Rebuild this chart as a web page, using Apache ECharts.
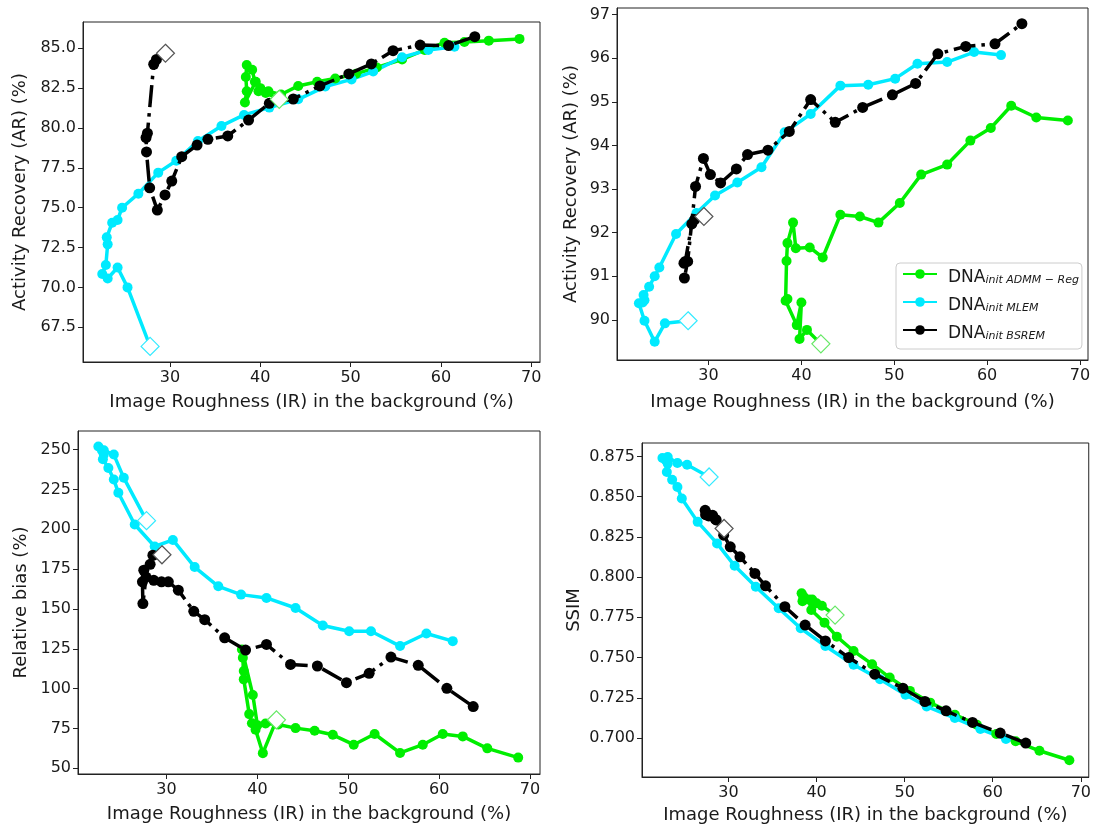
<!DOCTYPE html>
<html><head><meta charset="utf-8">
<script src="https://cdn.jsdelivr.net/npm/echarts@6/dist/echarts.min.js"></script>
<style>html,body{margin:0;padding:0;background:#fff}#c{width:1094px;height:829px}</style>
</head><body><div id="c"></div>
<script>
// ---------- data ----------
const xTicks = [30, 40, 50, 60, 70];
const yTicksAR1 = [67.5, 70.0, 72.5, 75.0, 77.5, 80.0, 82.5, 85.0];
const yTicksAR2 = [90, 91, 92, 93, 94, 95, 96, 97];
const yTicksBias = [50, 75, 100, 125, 150, 175, 200, 225, 250];
const yTicksSSIM = [0.700, 0.725, 0.750, 0.775, 0.800, 0.825, 0.850, 0.875];

// Image roughness (x) per method (first point = initial, diamond)
const irADMM = [42.1, 40.6, 39.8, 40.0, 39.5, 38.3, 38.5, 38.4, 38.5, 39.1, 39.4, 40.9, 42.3, 44.2, 46.3, 48.3, 50.6, 52.9, 55.7, 58.2, 60.4, 62.6, 65.3, 68.7];
const irMLEM = [27.8, 25.3, 24.2, 23.1, 22.5, 22.9, 23.1, 23.0, 23.6, 24.2, 24.7, 26.5, 28.7, 30.7, 33.1, 35.7, 38.2, 41.0, 44.2, 47.2, 50.1, 52.5, 55.7, 58.6, 61.5];
const irBSREM = [29.5, 28.5, 28.2, 27.5, 27.35, 27.4, 27.75, 28.6, 29.45, 30.2, 31.3, 33.0, 34.2, 36.4, 38.7, 41.0, 43.65, 46.6, 49.8, 52.3, 54.7, 57.7, 60.85, 63.75];

// Panel 1: Activity recovery (first region)
const ar1ADMM = [81.8, 82.2, 82.3, 82.5, 82.9, 81.6, 82.3, 83.2, 83.95, 83.65, 82.9, 82.3, 82.1, 82.64, 82.9, 83.1, 83.4, 83.8, 84.3, 84.9, 85.35, 85.4, 85.48, 85.59];
const ar1MLEM = [66.3, 70.0, 71.25, 70.56, 70.84, 71.4, 72.7, 73.14, 74.06, 74.23, 75.0, 75.88, 77.2, 77.95, 79.18, 80.13, 80.82, 81.28, 81.8, 82.6, 83.05, 83.54, 84.44, 84.9, 85.1];
const ar1BSREM = [84.69, 84.3, 84.0, 79.67, 79.4, 78.5, 76.25, 74.85, 75.8, 76.67, 78.2, 78.93, 79.29, 79.5, 80.5, 81.55, 81.82, 82.64, 83.39, 84.02, 84.85, 85.2, 85.17, 85.73];

// Panel 2: Activity recovery (second region)
const ar2ADMM = [89.45, 89.77, 89.56, 90.40, 89.88, 90.44, 90.48, 91.35, 91.76, 92.23, 91.64, 91.66, 91.43, 92.41, 92.37, 92.23, 92.68, 93.33, 93.56, 94.11, 94.40, 94.91, 94.64, 94.57];
const ar2MLEM = [89.98, 89.92, 89.5, 89.98, 90.38, 90.40, 90.45, 90.57, 90.76, 91.0, 91.2, 91.97, 92.45, 92.85, 93.15, 93.5, 94.3, 94.72, 95.37, 95.39, 95.53, 95.87, 95.91, 96.14, 96.07];
const ar2BSREM = [92.37, 92.3, 92.2, 91.34, 91.3, 90.96, 91.34, 93.06, 93.7, 93.33, 93.14, 93.46, 93.79, 93.89, 94.32, 95.05, 94.53, 94.87, 95.16, 95.42, 96.1, 96.27, 96.33, 96.79];

// Panel 3: Relative bias
const biasADMM = [80.4, 59.5, 74.2, 77, 96, 124.6, 111, 119.4, 105.8, 84, 78.3, 78.1, 77.5, 75.2, 73.5, 71, 64.8, 71.5, 59.6, 64.8, 71.5, 70, 62.5, 56.7];
const biasMLEM = [205.4, 232.3, 246.9, 249.6, 252, 249.5, 247, 244, 238.5, 231.3, 222.9, 203, 189.2, 193.3, 176.3, 164.2, 159, 156.9, 150.6, 139.6, 136, 136, 126.7, 134.6, 129.8];
const biasBSREM = [184, 183.7, 178, 174.3, 167, 153.4, 170, 168, 167, 167, 161.8, 148.5, 143.3, 131.9, 124.2, 127.7, 115.2, 114.2, 103.75, 109.6, 119.8, 114.6, 100.2, 88.75];

// Panel 4: SSIM
const ssimADMM = [0.7764, 0.7822, 0.784, 0.7837, 0.786, 0.79, 0.787, 0.785, 0.788, 0.786, 0.7795, 0.7717, 0.763, 0.7541, 0.7459, 0.7376, 0.7293, 0.722, 0.7145, 0.7083, 0.7025, 0.698, 0.6921, 0.6862];
const ssimMLEM = [0.8622, 0.8698, 0.8709, 0.8746, 0.874, 0.8725, 0.8705, 0.8653, 0.8605, 0.856, 0.8488, 0.8343, 0.8209, 0.807, 0.794, 0.7806, 0.7682, 0.7572, 0.7455, 0.7366, 0.7269, 0.7196, 0.7124, 0.7056, 0.6994];
const ssimBSREM = [0.8302, 0.836, 0.8384, 0.8395, 0.8415, 0.8388, 0.838, 0.8355, 0.826, 0.8188, 0.8126, 0.8023, 0.7946, 0.7816, 0.7702, 0.7603, 0.75, 0.7397, 0.731, 0.7227, 0.7169, 0.7097, 0.7031, 0.6969];

const xName = 'Image Roughness (IR) in the background (%)';
const methodNames = ['ADMM', 'MLEM', 'BSREM'];
const methodSub = {ADMM: 'init ADMM \u2212 Reg', MLEM: 'init MLEM', BSREM: 'init BSREM'};

// ---------- layout / style ----------
const FONT = 'DejaVu Sans';
const TXT = '#1a1a1a';
const COLORS = {ADMM: '#00ee00', MLEM: '#00eaff', BSREM: '#000000'};
const DIAMOND_EDGE = {ADMM: '#66e866', MLEM: '#33eaff', BSREM: '#555555'};

const panels = [
  {grid: {left: 83, top: 22, width: 457, height: 340}, x: [20.37, 70.97], y: [65.32, 86.65],
   yTicks: yTicksAR1, dec: 1, yName: 'Activity Recovery (AR) (%)', yGap: 54, xGap: 31,
   ys: {ADMM: ar1ADMM, MLEM: ar1MLEM, BSREM: ar1BSREM}},
  {grid: {left: 617, top: 8, width: 471, height: 352}, x: [20.14, 70.87], y: [89.08, 97.15],
   yTicks: yTicksAR2, dec: 0, yName: 'Activity Recovery (AR) (%)', yGap: 37, xGap: 33,
   ys: {ADMM: ar2ADMM, MLEM: ar2MLEM, BSREM: ar2BSREM}},
  {grid: {left: 78, top: 431, width: 462, height: 343}, x: [20.26, 71.1], y: [46.4, 261.7],
   yTicks: yTicksBias, dec: 0, yName: 'Relative bias (%)', yGap: 48, xGap: 31,
   ys: {ADMM: biasADMM, MLEM: biasMLEM, BSREM: biasBSREM}},
  {grid: {left: 642, top: 443, width: 447, height: 334}, x: [20.18, 70.9], y: [0.6758, 0.8833],
   yTicks: yTicksSSIM, dec: 3, yName: 'SSIM', yGap: 59, xGap: 29,
   ys: {ADMM: ssimADMM, MLEM: ssimMLEM, BSREM: ssimBSREM}}
];
const irs = {ADMM: irADMM, MLEM: irMLEM, BSREM: irBSREM};

const grids = [], xAxes = [], yAxes = [], series = [];
panels.forEach((p, i) => {
  grids.push(Object.assign({show: true, borderColor: '#222', borderWidth: 1, backgroundColor: '#fff'}, p.grid));
  const common = {
    type: 'value', gridIndex: i, splitLine: {show: false},
    axisLine: {show: true, onZero: false, lineStyle: {color: '#222', width: 1}},
    axisTick: {show: true, length: 5, lineStyle: {color: '#222', width: 1}},
    nameLocation: 'middle',
    nameTextStyle: {fontFamily: FONT, fontSize: 18, color: TXT}
  };
  xAxes.push(Object.assign({}, common, {
    min: p.x[0], max: p.x[1], name: xName, nameGap: p.xGap,
    axisTick: Object.assign({}, common.axisTick, {customValues: xTicks}),
    axisLabel: {customValues: xTicks, fontFamily: FONT, fontSize: 16, color: TXT, margin: 8,
      formatter: v => String(Math.round(v))}
  }));
  yAxes.push(Object.assign({}, common, {
    min: p.y[0], max: p.y[1], name: p.yName, nameGap: p.yGap, nameRotate: 90,
    axisTick: Object.assign({}, common.axisTick, {customValues: p.yTicks}),
    axisLabel: {customValues: p.yTicks, fontFamily: FONT, fontSize: 16, color: TXT, margin: 7,
      formatter: v => Number(v).toFixed(p.dec)}
  }));
  methodNames.forEach(m => {
    const xs = irs[m], ys = p.ys[m];
    const data = xs.map((x, k) => [x, ys[k]]);
    const isB = m === 'BSREM';
    series.push({
      type: 'line', name: m, xAxisIndex: i, yAxisIndex: i, data: data,
      symbol: 'circle', symbolSize: isB ? 11 : 10, showSymbol: true,
      color: COLORS[m], z: isB ? 4 : 3,
      lineStyle: {color: COLORS[m], width: 3.5, type: isB ? [22, 6, 3.5, 6] : 'solid', cap: 'butt'},
      itemStyle: {color: COLORS[m]},
      emphasis: {disabled: true}, silent: true
    });
  });
  methodNames.forEach(m => {
    series.push({
      type: 'scatter', name: 'start_' + m, xAxisIndex: i, yAxisIndex: i,
      data: [[irs[m][0], p.ys[m][0]]], symbol: 'diamond', symbolSize: 18, z: 6,
      itemStyle: {color: '#ffffff', opacity: 1, borderColor: DIAMOND_EDGE[m], borderWidth: 1.2},
      emphasis: {disabled: true}, silent: true
    });
  });
});

const chart = echarts.init(document.getElementById('c'), null, {renderer: 'canvas'});
chart.setOption({
  animation: false,
  backgroundColor: '#fff',
  grid: grids, xAxis: xAxes, yAxis: yAxes, series: series,
  legend: {
    data: [{name: 'ADMM'}, {name: 'MLEM'}, {name: 'BSREM', lineStyle: {type: 'solid'}}],
    orient: 'vertical', left: 896, top: 263,
    itemWidth: 34, itemHeight: 12, itemGap: 11,
    padding: [6, 3, 7, 6],
    borderColor: '#cccccc', borderWidth: 1, borderRadius: 4,
    backgroundColor: 'rgba(255,255,255,0.85)',
    formatter: n => '{a|DNA}{b|' + methodSub[n] + '}',
    textStyle: {
      color: TXT,
      rich: {
        a: {fontFamily: FONT, fontSize: 17, color: TXT, lineHeight: 24, verticalAlign: 'bottom', padding: [0, 0, 0, 6]},
        b: {fontFamily: FONT, fontSize: 11, fontStyle: 'italic', color: TXT, lineHeight: 12, verticalAlign: 'bottom'}
      }
    }
  }
});
</script></body></html>
